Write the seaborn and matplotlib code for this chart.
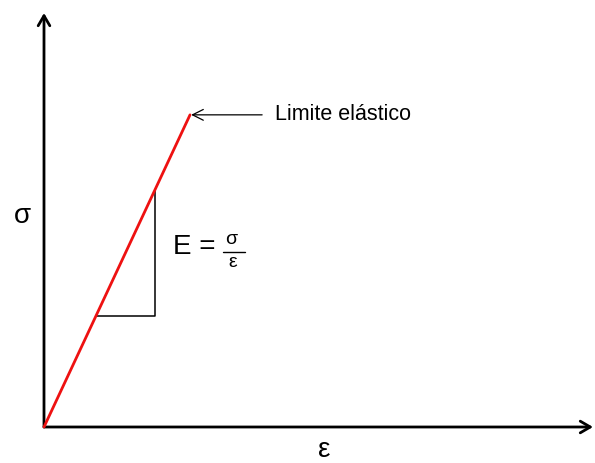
import matplotlib
matplotlib.use("Agg")
import matplotlib.pyplot as plt
import seaborn as sns
import pandas as pd

# Data (normalised strain / stress, axis arrows end at 1.0)
strain = [0.0, 0.266]
stress = [0.0, 0.754]
tri_x = [0.0965, 0.202, 0.202]
tri_y = [0.268, 0.268, 0.572]
annotation = "Limite elástico"
xlabel = "ε"
ylabel = "σ"

sns.set_theme(style="white")
plt.rcParams['font.family'] = ['Liberation Sans', 'DejaVu Sans']
plt.rcParams['text.color'] = 'black'

fig = plt.figure(figsize=(5.95, 4.63), dpi=100)
W, H = 595, 463
ox, oy = 44, 427
ax = fig.add_axes([ox / W, (H - oy) / H, (593 - ox) / W, (oy - 13) / H])
ax.set_xlim(0, 1)
ax.set_ylim(0, 1)
ax.axis("off")

# axes arrows
arrow_kw = dict(arrowstyle="->,head_length=0.6,head_width=0.35", color="black", lw=2.0,
                shrinkA=0, shrinkB=0)
ax.annotate("", xy=(1, 0), xytext=(0, 0), arrowprops=arrow_kw, annotation_clip=False)
ax.annotate("", xy=(0, 1), xytext=(0, 0), arrowprops=arrow_kw, annotation_clip=False)

# elastic line
df = pd.DataFrame({"strain": strain, "stress": stress})
sns.lineplot(data=df, x="strain", y="stress", ax=ax, color="#ee1111", lw=2.0,
             clip_on=False, zorder=3)

# slope triangle
sns.lineplot(x=tri_x, y=tri_y, ax=ax, color="black", lw=1.1, sort=False,
             estimator=None, clip_on=False)

# annotation
ax.annotate(annotation, xy=(strain[-1] + 0.002, stress[-1]), xytext=(0.421, 0.754),
            ha="left", va="center", fontsize=15.5, color="black",
            arrowprops=dict(arrowstyle="->,head_length=0.5,head_width=0.25",
                            color="black", lw=0.9, shrinkA=7, shrinkB=0))

# axis labels
ax.text(-0.04, 0.509, ylabel, ha="center", va="center", fontsize=20, color="black")
ax.text(0.511, -0.055, xlabel, ha="center", va="center", fontsize=20, color="black")

# E = sigma / epsilon
ax.text(0.235, 0.435, "E =", ha="left", va="center", fontsize=20, color="black")
ax.text(0.341, 0.452, "σ", ha="center", va="center", fontsize=14, color="black")
ax.text(0.343, 0.398, "ε", ha="center", va="center", fontsize=14, color="black")
ax.plot([0.326, 0.366], [0.423, 0.423], color="black", lw=1.0)

fig.savefig("out.png", dpi=100)
